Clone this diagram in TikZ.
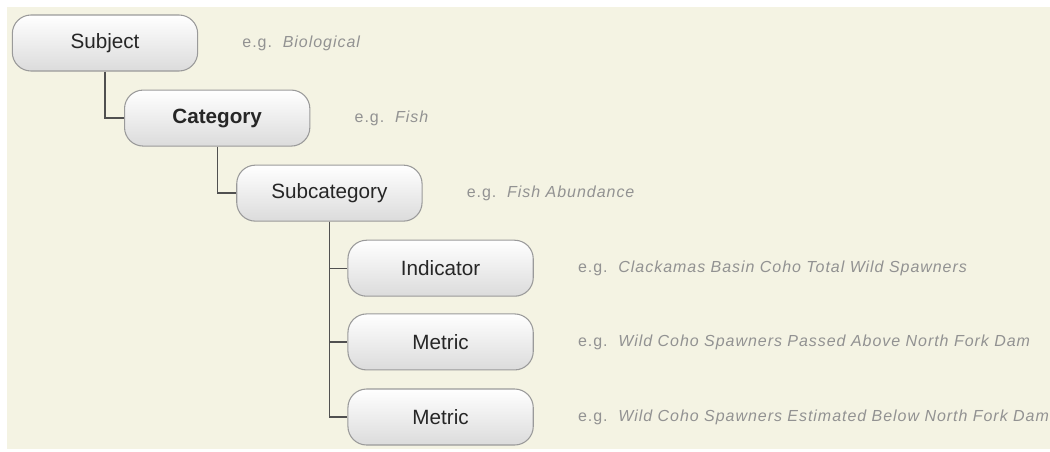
\documentclass[tikz,border=0pt]{standalone}
\usepackage{fontspec}
\setmainfont{Liberation Sans}
\newfontfamily\egfont[LetterSpace=6]{Liberation Sans}
\usetikzlibrary{positioning, shadings}
\definecolor{paper}{HTML}{F4F3E3}
\definecolor{rim}{HTML}{9A9A9A}
\definecolor{wire}{HTML}{505050}
\definecolor{hint}{HTML}{929292}
\newcommand{\eg}[1]{{\egfont e.g.\ \ \itshape #1}}

\begin{document}
\begin{tikzpicture}[x=0.75pt, y=-0.75pt,
    level/.style = {draw=rim, line width=0.8pt, rounded corners=14pt, top color=white, bottom color=black!14,
                    minimum width=139pt, minimum height=42pt, inner sep=0pt, text=black!85,
                    font=\fontsize{15.5pt}{18pt}\selectfont},
    example/.style = {right = 33pt of #1, anchor=west, text=hint, inner sep=0pt, font=\fontsize{12pt}{14pt}\selectfont},
    link/.style = {draw=wire, line width=1pt}]
    \useasboundingbox (0,0) rectangle (1050,451);
    \fill[paper] (7,7) rectangle (1050,449);

    \node[level] (subject) at (105,43) {Subject};
    \node[level, below right = 13.5pt and 14.25pt of subject.south, anchor=north west, font=\fontsize{15.5pt}{18pt}\selectfont\bfseries] (category) {Category};
    \node[level, below right = 13.5pt and 14.25pt of category.south, anchor=north west] (subcategory) {Subcategory};
    \node[level, below right = 13.5pt and 13.5pt of subcategory.south, anchor=north west] (indicator) {Indicator};
    \node[level, below = 12.5pt of indicator] (metric-above) {Metric};
    \node[level, below = 13.5pt of metric-above] (metric-below) {Metric};

    \node[example=subject.east] (eg-subject) {\eg{Biological}};
    \node[example=category.east] (eg-category) {\eg{Fish}};
    \node[example=subcategory.east] (eg-subcategory) {\eg{Fish Abundance}};
    \node[example=indicator.east] (eg-indicator) {\eg{Clackamas Basin Coho Total Wild Spawners}};
    \node[example=metric-above.east] (eg-metric-above) {\eg{Wild Coho Spawners Passed Above North Fork Dam}};
    \node[example=metric-below.east] (eg-metric-below) {\eg{Wild Coho Spawners Estimated Below North Fork Dam}};

    \draw[link] (subject.south) |- (category.west);
    \draw[link] (category.south) |- (subcategory.west);
    \draw[link] (subcategory.south) |- (indicator.west);
    \draw[link] (subcategory.south) |- (metric-above.west);
    \draw[link] (subcategory.south) |- (metric-below.west);

\end{tikzpicture}
\end{document}
